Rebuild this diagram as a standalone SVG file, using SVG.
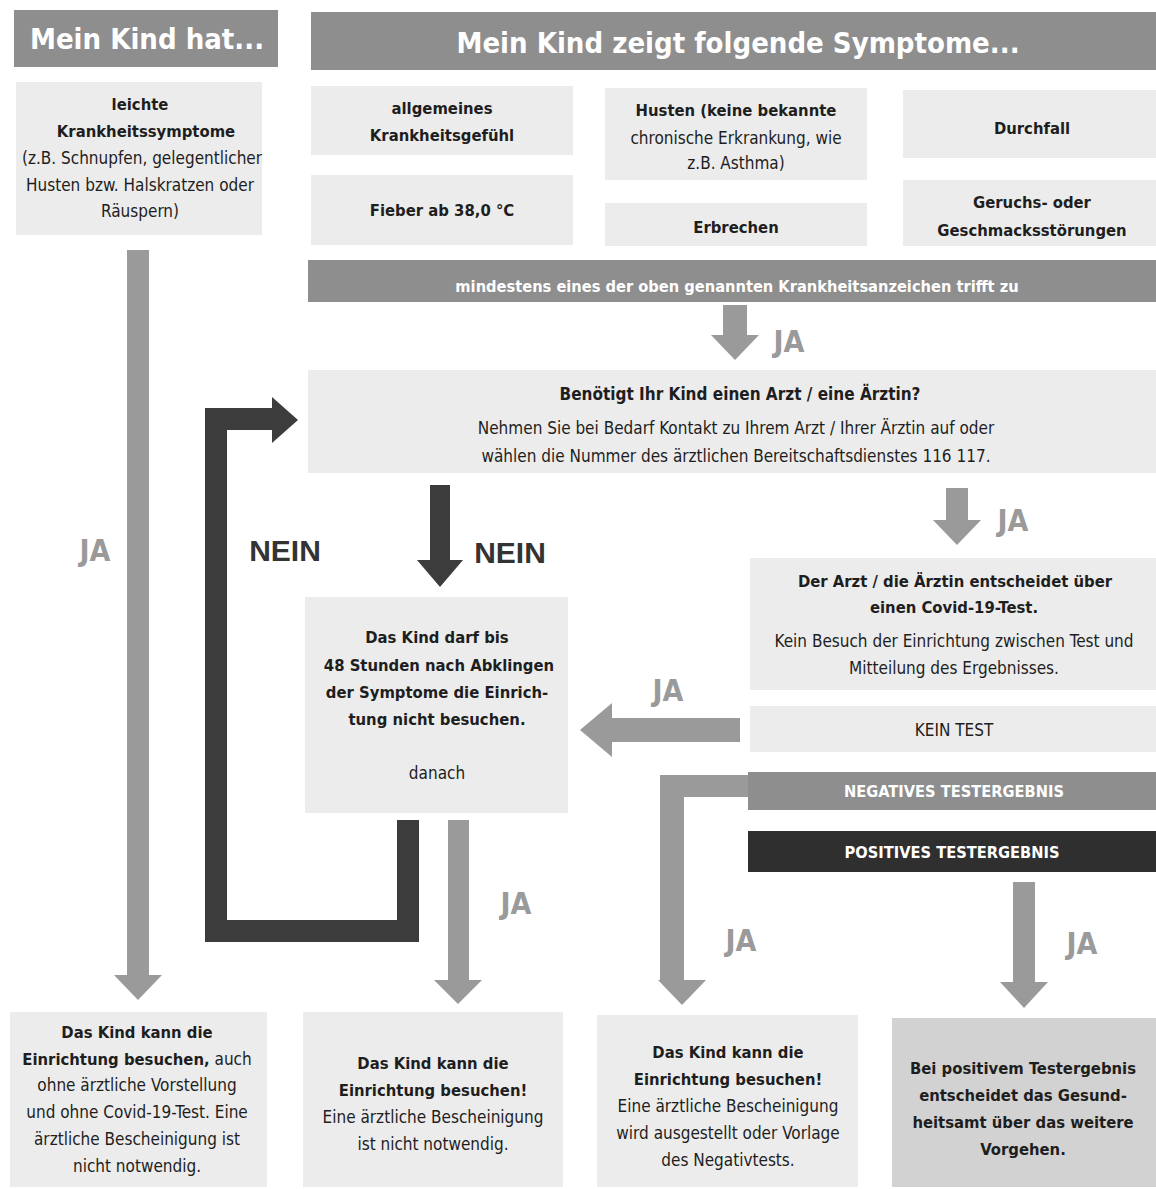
<svg xmlns="http://www.w3.org/2000/svg" width="1156" height="1189" viewBox="0 0 1156 1189">
<style>
text{font-family:"DejaVu Sans Condensed","DejaVu Sans","Liberation Sans",sans-serif;text-anchor:middle;fill:#1e1e1e;font-size:17px}
.b{font-weight:bold;font-size:16.5px}
.hd{fill:#8e8e8e}
.box{fill:#ececec}
.box2{fill:#d2d2d2}
.ht{fill:#fff;font-weight:bold;font-size:29px}
.bt{fill:#fff;font-weight:bold;font-size:16.3px}
.la{fill:#9a9a9a}
.dk{fill:#3c3c3c}
.jl{fill:#9a9a9a;font-weight:bold;font-size:30px}
.nl{fill:#333;font-weight:bold;font-size:30px;font-family:"Liberation Sans","DejaVu Sans",sans-serif}
</style>
<rect width="1156" height="1189" fill="#fff"/>

<g id="header-left"><rect class="hd" x="14" y="10" width="264" height="57"/><text class="ht" x="147" y="49">Mein Kind hat...</text></g>
<g id="header-right"><rect class="hd" x="311" y="12" width="845" height="58"/><text class="ht" x="738" y="53">Mein Kind zeigt folgende Symptome...</text></g>

<g id="leichte"><rect class="box" x="16" y="82" width="246" height="153"/>
<text class="b" x="140" y="110">leichte</text>
<text class="b" x="146" y="137">Krankheitssymptome</text>
<text x="142" y="164">(z.B. Schnupfen, gelegentlicher</text>
<text x="140" y="191">Husten bzw. Halskratzen oder</text>
<text x="140" y="217">Räuspern)</text></g>

<g id="allgemein"><rect class="box" x="311" y="86" width="262" height="69"/>
<text class="b" x="442" y="114">allgemeines</text><text class="b" x="442" y="141">Krankheitsgefühl</text></g>
<g id="fieber"><rect class="box" x="311" y="175" width="262" height="70"/>
<text class="b" x="442" y="216">Fieber ab 38,0 °C</text></g>
<g id="husten"><rect class="box" x="605" y="88" width="262" height="92"/>
<text class="b" x="736" y="116">Husten (keine bekannte</text><text x="736" y="144">chronische Erkrankung, wie</text><text x="736" y="169">z.B. Asthma)</text></g>
<g id="erbrechen"><rect class="box" x="605" y="203" width="262" height="43"/>
<text class="b" x="736" y="233">Erbrechen</text></g>
<g id="durchfall"><rect class="box" x="903" y="90" width="253" height="68"/>
<text class="b" x="1032" y="134">Durchfall</text></g>
<g id="geruch"><rect class="box" x="903" y="180" width="253" height="66"/>
<text class="b" x="1032" y="208">Geruchs- oder</text><text class="b" x="1032" y="236">Geschmacksstörungen</text></g>

<g id="mindestens"><rect class="hd" x="308" y="260" width="848" height="42"/>
<text class="bt" x="737" y="292">mindestens eines der oben genannten Krankheitsanzeichen trifft zu</text></g>

<g id="arzt-frage"><rect class="box" x="308" y="370" width="848" height="103"/>
<text class="b" x="740" y="400" style="font-size:17px">Benötigt Ihr Kind einen Arzt / eine Ärztin?</text>
<text x="736" y="434">Nehmen Sie bei Bedarf Kontakt zu Ihrem Arzt / Ihrer Ärztin auf oder</text>
<text x="736" y="462">wählen die Nummer des ärztlichen Bereitschaftsdienstes 116 117.</text></g>

<g id="nicht-besuchen"><rect class="box" x="305" y="597" width="263" height="216"/>
<text class="b" x="437" y="643">Das Kind darf bis</text>
<text class="b" x="439" y="671">48 Stunden nach Abklingen</text>
<text class="b" x="437" y="698">der Symptome die Einrich-</text>
<text class="b" x="437" y="725">tung nicht besuchen.</text>
<text x="437" y="779">danach</text></g>

<g id="arzt-entscheidet"><rect class="box" x="750" y="558" width="406" height="132"/>
<text class="b" x="955" y="587">Der Arzt / die Ärztin entscheidet über</text>
<text class="b" x="954" y="613">einen Covid-19-Test.</text>
<text x="954" y="647">Kein Besuch der Einrichtung zwischen Test und</text>
<text x="954" y="674">Mitteilung des Ergebnisses.</text></g>

<g id="kein-test"><rect class="box" x="750" y="706" width="406" height="46"/>
<text x="954" y="736">KEIN TEST</text></g>
<g id="negativ"><rect class="hd" x="748" y="772" width="408" height="38"/>
<text class="bt" x="954" y="797">NEGATIVES TESTERGEBNIS</text></g>
<g id="positiv"><rect fill="#2f2f2f" x="748" y="831" width="408" height="41"/>
<text class="bt" x="952" y="858">POSITIVES TESTERGEBNIS</text></g>

<g id="ergebnis-1"><rect class="box" x="10" y="1012" width="257" height="175"/>
<text x="137" y="1038"><tspan class="b">Das Kind kann die</tspan></text>
<text x="137" y="1065"><tspan class="b">Einrichtung besuchen,</tspan> auch</text>
<text x="137" y="1091">ohne ärztliche Vorstellung</text>
<text x="137" y="1118">und ohne Covid-19-Test. Eine</text>
<text x="137" y="1145">ärztliche Bescheinigung ist</text>
<text x="137" y="1172">nicht notwendig.</text></g>
<g id="ergebnis-2"><rect class="box" x="303" y="1012" width="260" height="175"/>
<text class="b" x="433" y="1069">Das Kind kann die</text>
<text class="b" x="433" y="1096">Einrichtung besuchen!</text>
<text x="433" y="1123">Eine ärztliche Bescheinigung</text>
<text x="433" y="1150">ist nicht notwendig.</text></g>
<g id="ergebnis-3"><rect class="box" x="597" y="1015" width="261" height="172"/>
<text class="b" x="728" y="1058">Das Kind kann die</text>
<text class="b" x="728" y="1085">Einrichtung besuchen!</text>
<text x="728" y="1112">Eine ärztliche Bescheinigung</text>
<text x="728" y="1139">wird ausgestellt oder Vorlage</text>
<text x="728" y="1166">des Negativtests.</text></g>
<g id="ergebnis-4"><rect class="box2" x="892" y="1018" width="264" height="169"/>
<text class="b" x="1023" y="1074">Bei positivem Testergebnis</text>
<text class="b" x="1023" y="1101">entscheidet das Gesund-</text>
<text class="b" x="1023" y="1128">heitsamt über das weitere</text>
<text class="b" x="1023" y="1155">Vorgehen.</text></g>

<g id="connectors">
<polygon class="la" points="127,250 149,250 149,975 162,975 138,1000 114,975 127,975"/>
<text class="jl" x="95" y="561">JA</text>
<polygon class="la" points="723,305 747,305 747,335 759,335 735,360 711,335 723,335"/>
<text class="jl" x="789" y="352">JA</text>
<path d="M408,820 V931 H216 V419 H274" fill="none" stroke="#3c3c3c" stroke-width="22"/>
<polygon class="dk" points="272,397 298,420 272,443"/>
<text class="nl" x="285" y="561">NEIN</text>
<polygon class="dk" points="430,485 450,485 450,560 463,560 440,587 417,560 430,560"/>
<text class="nl" x="510" y="563">NEIN</text>
<polygon class="la" points="946,488 968,488 968,520 981,520 957,545 933,520 946,520"/>
<text class="jl" x="1013" y="531">JA</text>
<polygon class="la" points="740,718 612,718 612,703 580,730 612,757 612,742 740,742"/>
<text class="jl" x="668" y="701">JA</text>
<polygon class="la" points="448,820 469,820 469,980 482,980 458,1004 434,980 448,980"/>
<text class="jl" x="516" y="914">JA</text>
<polygon class="la" points="748,775 660,775 660,980 658,980 682,1005 706,980 684,980 684,797 748,797"/>
<text class="jl" x="741" y="951">JA</text>
<polygon class="la" points="1013,882 1035,882 1035,982 1048,982 1024,1008 1000,982 1013,982"/>
<text class="jl" x="1082" y="954">JA</text>
</g>
</svg>
